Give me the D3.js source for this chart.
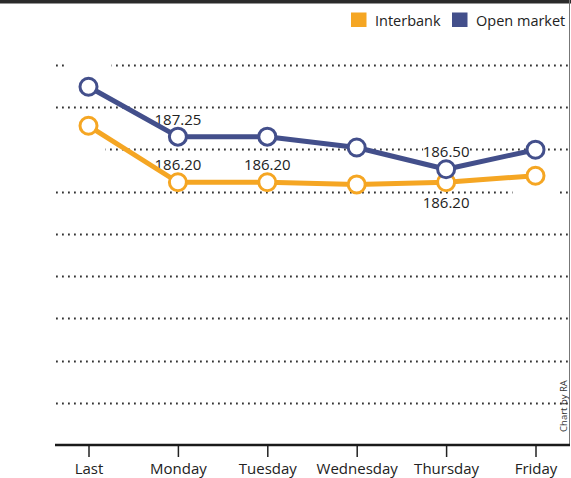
<!DOCTYPE html>
<html>
<head>
<meta charset="utf-8">
<script src="https://cdn.jsdelivr.net/npm/d3@7"></script>
<style>
  body { margin: 0; background: #fff; }
  svg { display: block; font-family: "Open Sans", sans-serif; }
</style>
</head>
<body>
<div id="chart"></div>
<script>
// data
var days = ["Last", "Monday", "Tuesday", "Wednesday", "Thursday", "Friday"];
var interbank = [187.50, 186.20, 186.20, 186.15, 186.20, 186.35];
var openMarket = [188.40, 187.25, 187.25, 187.00, 186.50, 186.95];
var seriesNames = ["Interbank", "Open market"];
var seriesColors = ["#f5a623", "#434f8b"];
// which point labels are printed (others only leave their white box)
var interbankLabels = [
  {i: 0, pos: "below", show: false},
  {i: 1, pos: "above", show: true},
  {i: 2, pos: "above", show: true},
  {i: 4, pos: "below", show: true},
  {i: 5, pos: "below", show: false}
];
var openMarketLabels = [
  {i: 0, pos: "above", show: false},
  {i: 1, pos: "above", show: true},
  {i: 4, pos: "above", show: true}
];
var yDomain = [180.15, 188.9];
var gridCount = 9;
var credit = "Chart by RA";

var width = 571, height = 478;
var axisY = 445, topY = 65;
var left = 55, right = 570;

var svg = d3.select("#chart").append("svg")
    .attr("width", width)
    .attr("height", height);

var x = d3.scalePoint().domain(days).range([88.5, 535.5]);
var y = d3.scaleLinear().domain(yDomain).range([axisY, topY]);

// top rule and right edge
svg.append("rect")
    .attr("x", 0).attr("y", 0)
    .attr("width", width).attr("height", 3.5)
    .attr("fill", "#2a2a2a");
svg.append("line")
    .attr("x1", 569.5).attr("x2", 569.5)
    .attr("y1", 0).attr("y2", axisY)
    .attr("stroke", "#777").attr("stroke-width", 1);

// dotted gridlines
var step = (yDomain[1] - yDomain[0]) / gridCount;
var gridValues = d3.range(1, gridCount + 1).map(k => yDomain[0] + k * step);
svg.append("g").selectAll("line")
    .data(gridValues)
    .join("line")
    .attr("x1", left + 1)
    .attr("x2", right)
    .attr("y1", d => Math.round(y(d)) + 0.5)
    .attr("y2", d => Math.round(y(d)) + 0.5)
    .attr("stroke", "#333")
    .attr("stroke-width", 1.8)
    .attr("stroke-dasharray", "1.8,4.2");

// value labels with white boxes (drawn before lines so lines sit on top)
var labelG = svg.append("g");
function addLabels(values, labels) {
    labels.forEach(l => {
        var cx = x(days[l.i]);
        var cy = y(values[l.i]);
        var base = l.pos == "above" ? cy - 12 : cy + 26;
        // the hidden first-day box below reaches back to the gridline start
        var bx = (l.i == 0 && l.pos == "below") ? left : cx - 23;
        var bw = (l.i == 0 && l.pos == "below") ? cx + 17 - left : 46;
        labelG.append("rect")
            .attr("x", bx).attr("y", base - 14)
            .attr("width", bw).attr("height", 18)
            .attr("fill", "#fff");
        if (l.show) {
            labelG.append("text")
                .attr("x", cx).attr("y", base)
                .attr("text-anchor", "middle")
                .attr("font-size", 15)
                .attr("fill", "#222")
                .text(values[l.i].toFixed(2));
        }
    });
}
addLabels(interbank, interbankLabels);
addLabels(openMarket, openMarketLabels);

// lines and markers
var line = d3.line().x((d, i) => x(days[i])).y(d => y(d));
[interbank, openMarket].forEach((vals, s) => {
    svg.append("path")
        .datum(vals)
        .attr("d", line)
        .attr("fill", "none")
        .attr("stroke", seriesColors[s])
        .attr("stroke-width", 5)
        .attr("stroke-linejoin", "round");
    svg.append("g").selectAll("circle")
        .data(vals)
        .join("circle")
        .attr("cx", (d, i) => x(days[i]))
        .attr("cy", d => y(d))
        .attr("r", 8.5)
        .attr("fill", "#fff")
        .attr("stroke", seriesColors[s])
        .attr("stroke-width", 3);
});

// x axis
var xAxis = svg.append("g")
    .attr("transform", `translate(0,${axisY})`)
    .call(d3.axisBottom(x).tickSize(12).tickPadding(6));
xAxis.select(".domain").remove();
xAxis.selectAll(".tick line").attr("stroke", "#222").attr("stroke-width", 1.5);
xAxis.selectAll(".tick text")
    .attr("font-size", 15)
    .attr("font-family", "'Open Sans', sans-serif")
    .attr("fill", "#222");
svg.append("line")
    .attr("x1", left).attr("x2", right)
    .attr("y1", axisY).attr("y2", axisY)
    .attr("stroke", "#1a1a1a").attr("stroke-width", 2.5);

// legend
var legend = svg.append("g");
var legendX = [351, 452];
seriesNames.forEach((name, s) => {
    legend.append("rect")
        .attr("x", legendX[s]).attr("y", 12.5)
        .attr("width", 15.5).attr("height", 14.5)
        .attr("fill", seriesColors[s]);
    legend.append("text")
        .attr("x", legendX[s] + 24).attr("y", 26)
        .attr("font-size", 14.5)
        .attr("fill", "#222")
        .text(name);
});

// credit
svg.append("text")
    .attr("transform", "translate(567,406) rotate(-90)")
    .attr("text-anchor", "middle")
    .attr("font-size", 9.5)
    .attr("fill", "#333")
    .text(credit);
</script>
</body>
</html>
